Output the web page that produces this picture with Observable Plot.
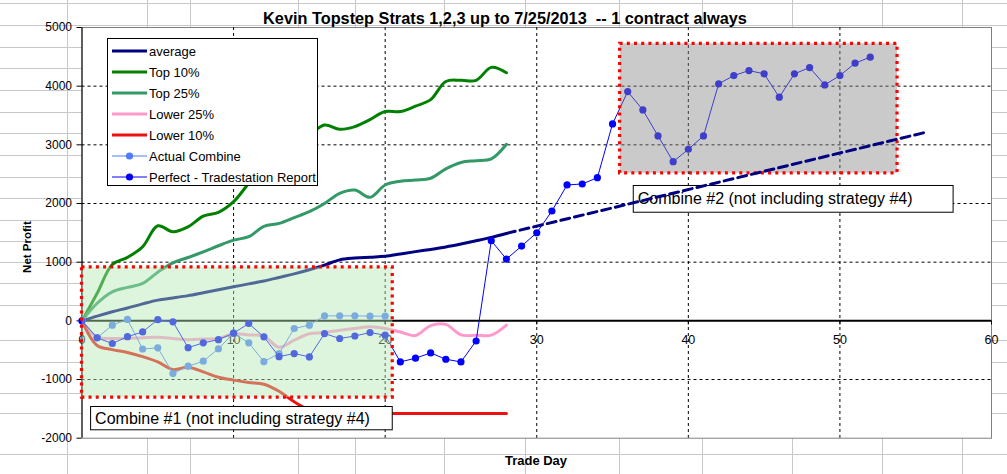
<!DOCTYPE html>
<html><head><meta charset="utf-8">
<script src="https://cdn.jsdelivr.net/npm/d3@7"></script>
<script src="https://cdn.jsdelivr.net/npm/@observablehq/plot@0.6"></script>
<style>
body{margin:0;background:#fff;}
#wrap{position:relative;width:1007px;height:474px;overflow:hidden;font-family:"Liberation Sans",Arial,sans-serif;color:#000;}
#bg,#chart{position:absolute;left:0;top:0;}
.t{position:absolute;white-space:pre;}
</style></head>
<body><div id="wrap"><svg id="bg" width="1007" height="474"></svg><div id="chart"></div></div>
<script>
// ---- data ----
const tradeDays = [0,1,2,3,4,5,6,7,8,9,10,11,12,13,14,15,16,17,18,19,20,21,22,23,24,25,26,27,28];
const average = [0,80,154,220,290,353,390,430,480,530,580,630,680,740,800,870,950,1040,1070,1085,1100,1140,1180,1218,1260,1310,1365,1423,1490];
const top10   = [0,470,960,1082,1263,1620,1519,1604,1786,1849,2031,2345,2650,2900,3050,3170,3339,3266,3311,3430,3567,3567,3660,3770,4080,4100,4100,4320,4230];
const top25   = [0,300,495,570,638,830,990,1080,1175,1280,1375,1434,1610,1662,1760,1860,2000,2174,2230,2106,2316,2380,2400,2430,2590,2700,2730,2760,3010];
const lower25 = [0,-280,-300,-300,-290,-280,-300,-320,-310,-300,-220,-240,-260,-450,-330,-220,-200,-160,-130,-100,-130,-190,-250,-80,-60,-240,-244,-244,-73];
const lower10 = [0,-420,-490,-540,-610,-700,-830,-790,-870,-960,-1010,-1050,-1080,-1200,-1380,-1520,-1575,-1580,-1580,-1580,-1580,-1580,-1580,-1580,-1580,-1580,-1580,-1580,-1580];
const actualDays = [0,1,2,3,4,5,6,7,8,9,10,11,12,13,14,15,16,17,18,19,20];
const actualCombine = [0,-290,-73,24,-480,-460,-898,-773,-688,-475,-210,-375,-695,-557,-130,-73,85,85,85,80,80];
const perfectDays = [0,1,2,3,4,5,6,7,8,9,10,11,12,13,14,15,16,17,18,19,20,21,22,23,24,25,26,27,28,29,30,31,32,33,34,35,36,37,38,39,40,41,42,43,44,45,46,47,48,49,50,51,52];
const perfect = [0,-290,-386,-270,-188,20,-17,-457,-375,-320,-210,-45,-273,-610,-557,-614,-216,-301,-258,-199,-244,-700,-636,-546,-654,-700,-343,1365,1053,1275,1502,1872,2316,2333,2440,3357,3908,3595,3152,2713,2925,3152,4039,4181,4266,4210,3812,4210,4317,4022,4181,4392,4495];
const trendDays = [28, 55.6];
const trendValues = [1490, 3210];
const xTicks = [0,10,20,30,40,50,60];
const xGrid = [10,20,30,40,50];
const yTicks = [-2000,-1000,0,1000,2000,3000,4000,5000];
const yGrid = [-1000,1000,2000,3000,4000];
const boxes = [
  {name:"Combine #1", x1:0, x2:20.5, y1:-1307, y2:911},
  {name:"Combine #2", x1:35.5, x2:53.8, y1:2515, y2:4722}
];
const labels = [
  {text:"Combine #1 (not including strategy #4)", x1:0.6, x2:20.5, y1:-1865, y2:-1468},
  {text:"Combine #2 (not including strategy #4)", x1:36.4, x2:57.5, y1:1843, y2:2299}
];
const legendNames = ["average","Top 10%","Top 25%","Lower 25%","Lower 10%","Actual Combine","Perfect - Tradestation Report"];
const colors = {avg:"#000080", top10:"#008000", top25:"#339966", low25:"#ff99cc", low10:"#ee1111", actual:"#4f7bff", perfect:"#0000ff"};
const legendColors = [colors.avg, colors.top10, colors.top25, colors.low25, colors.low10, colors.actual, colors.perfect];
const legendWidths = [3,3,3,3,3,1,1];
const legendMarkers = [false,false,false,false,false,true,true];

const tbl = (xs, ys) => xs.map((d,i)=>({day:d, value:ys[i]}));
const avgT = tbl(tradeDays, average), t10 = tbl(tradeDays, top10), t25 = tbl(tradeDays, top25);
const l25 = tbl(tradeDays, lower25), l10 = tbl(tradeDays, lower10);
const act = tbl(actualDays, actualCombine), perf = tbl(perfectDays, perfect), trend = tbl(trendDays, trendValues);

// ---- spreadsheet cell grid in background ----
const bg = d3.select("#bg");
const cols = [67,147,190,298,355,444,525,619,702,792,882,962];
const rows = [3,25,47,68,90,112,133,155,177,198,220,241,262,283,305,340,362,393,413,454];
cols.forEach(c=>bg.append("line").attr("x1",c+0.5).attr("x2",c+0.5).attr("y1",0).attr("y2",474).attr("stroke","#c8c8c8"));
rows.forEach(r=>bg.append("line").attr("y1",r+0.5).attr("y2",r+0.5).attr("x1",0).attr("x2",1007).attr("stroke","#c8c8c8"));

const chart = Plot.plot({
  width:1007, height:474,
  marginLeft:81.5, marginRight:16, marginTop:27, marginBottom:36.3,
  x:{domain:[0,60], axis:null},
  y:{domain:[-2000,5000], axis:null},
  style:{background:"transparent", fontFamily:"'Liberation Sans', Arial, sans-serif", overflow:"visible"},
  marks:[
    Plot.frame({fill:"white", stroke:"#808080"}),
    Plot.gridY(yGrid, {stroke:"#000", strokeOpacity:1, strokeDasharray:"3,3"}),
    Plot.gridX(xGrid, {stroke:"#000", strokeOpacity:1, strokeDasharray:"3,3"}),
    Plot.ruleY([0], {stroke:"#000", strokeWidth:2}),
    Plot.ruleX([0], {stroke:"#000"}),
    Plot.axisY(yTicks, {anchor:"left", tickSize:5, tickPadding:5, tickFormat:d=>String(d), fontSize:12, label:null}),
    Plot.ruleX(xTicks, {x:d=>d, y1:0, y2:-70, stroke:"#000"}),
    Plot.text(xTicks, {x:d=>d, y:0, text:d=>String(d), dy:19, fontSize:12.5, fill:"#000"}),
    Plot.line(avgT, {x:"day", y:"value", stroke:colors.avg, strokeWidth:3, curve:"catmull-rom"}),
    Plot.line(t10, {x:"day", y:"value", stroke:colors.top10, strokeWidth:3, curve:"catmull-rom"}),
    Plot.line(t25, {x:"day", y:"value", stroke:colors.top25, strokeWidth:3, curve:"catmull-rom"}),
    Plot.line(l25, {x:"day", y:"value", stroke:colors.low25, strokeWidth:3, curve:"catmull-rom"}),
    Plot.line(l10, {x:"day", y:"value", stroke:colors.low10, strokeWidth:3, curve:"catmull-rom"}),
    Plot.line(act, {x:"day", y:"value", stroke:colors.actual, strokeWidth:1}),
    Plot.dot(act, {x:"day", y:"value", r:3.6, fill:colors.actual, stroke:"none"}),
    Plot.line(perf, {x:"day", y:"value", stroke:colors.perfect, strokeWidth:1}),
    Plot.dot(perf, {x:"day", y:"value", r:3.6, fill:colors.perfect, stroke:"none"}),
    Plot.rect(boxes.slice(0,1), {x1:"x1", x2:"x2", y1:"y1", y2:"y2", fill:"#b4e8b4", fillOpacity:0.45}),
    Plot.rect(boxes.slice(1,2), {x1:"x1", x2:"x2", y1:"y1", y2:"y2", fill:"#8a8a8a", fillOpacity:0.45}),
    Plot.rect(boxes, {x1:"x1", x2:"x2", y1:"y1", y2:"y2", fill:"none", stroke:"#ff0000", strokeWidth:3.2, strokeDasharray:"3,4.2"}),
    Plot.rect(labels, {x1:"x1", x2:"x2", y1:"y1", y2:"y2", fill:"white", stroke:"#000", strokeWidth:1}),
    Plot.text(labels, {x:"x1", y:d=>(d.y1+d.y2)/2, text:"text", textAnchor:"start", dx:4, fontSize:16, fill:"#000"}),
    Plot.line(trend, {x:"day", y:"value", stroke:colors.avg, strokeWidth:3, strokeDasharray:"9,5"})
  ]
});
document.getElementById("chart").appendChild(chart);

// ---- titles ----
const wrap = d3.select("#wrap");
wrap.append("div").attr("class","t").style("left","0px").style("width","1010px").style("top","9px")
  .style("text-align","center").style("font-weight","bold").style("font-size","16.3px")
  .text("Kevin Topstep Strats 1,2,3 up to 7/25/2013  -- 1 contract always");
wrap.append("div").attr("class","t").style("left","0px").style("width","1072px").style("top","453px")
  .style("text-align","center").style("font-weight","bold").style("font-size","13px").text("Trade Day");
wrap.append("div").attr("class","t").style("left","27px").style("top","247px")
  .style("transform","translate(-50%,-50%) rotate(-90deg)").style("font-weight","bold").style("font-size","11.5px").text("Net Profit");

// ---- legend ----
const lg = wrap.append("div").style("position","absolute").style("left","107px").style("top","38px")
  .style("width","209px").style("height","146px").style("background","#fff").style("border","1px solid #000");
legendNames.forEach((n,i)=>{
  const row = lg.append("div").style("position","absolute").style("left","4px").style("top",(2+i*21)+"px")
    .style("height","20px").style("display","flex").style("align-items","center");
  const s = row.append("svg").attr("width",36).attr("height",20).style("flex","none");
  s.append("line").attr("x1",0).attr("x2",35).attr("y1",10).attr("y2",10).attr("stroke",legendColors[i]).attr("stroke-width",legendWidths[i]);
  if (legendMarkers[i]) s.append("circle").attr("cx",17.5).attr("cy",10).attr("r",3.6).attr("fill",legendColors[i]);
  row.append("span").style("font-size","13px").style("margin-left","1px").style("white-space","pre").text(n);
});
</script></body></html>
